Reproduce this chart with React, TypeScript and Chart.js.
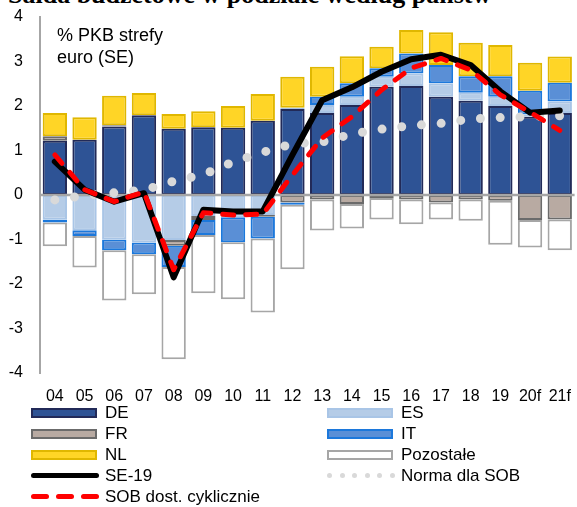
import React, { useEffect, useRef } from 'react';
import { Chart, registerables } from 'chart.js';

Chart.register(...registerables);

// Lata (f = prognoza)
const categories = ['04', '05', '06', '07', '08', '09', '10', '11', '12', '13', '14', '15', '16', '17', '18', '19', '20f', '21f'];

// Wkłady państw, % PKB strefy euro
const deValues = [1.22, 1.24, 1.54, 1.79, 1.49, 1.52, 1.51, 1.67, 1.93, 1.84, 2.02, 2.43, 2.45, 2.21, 2.12, 2.0, 1.76, 1.84];
const esValues = [-0.55, -0.79, -1.0, -1.07, -1.01, -0.47, -0.5, -0.45, 0.03, 0.18, 0.19, 0.23, 0.28, 0.3, 0.18, 0.21, 0.05, 0.26];
const frValues = [0.1, 0.0, 0.03, 0.0, -0.13, -0.09, 0.0, -0.04, -0.17, -0.1, -0.2, -0.07, -0.1, -0.17, -0.1, -0.13, -0.56, -0.55];
const itValues = [-0.07, -0.13, -0.24, -0.26, -0.48, -0.34, -0.56, -0.49, -0.05, 0.19, 0.3, 0.19, 0.45, 0.41, 0.37, 0.46, 0.53, 0.42];
const nlValues = [0.52, 0.51, 0.66, 0.5, 0.33, 0.36, 0.49, 0.6, 0.7, 0.67, 0.61, 0.48, 0.53, 0.74, 0.75, 0.7, 0.63, 0.59];
const otherValues = [-0.53, -0.71, -1.13, -0.9, -2.07, -1.31, -1.28, -1.66, -1.45, -0.7, -0.55, -0.48, -0.56, -0.38, -0.48, -0.99, -0.62, -0.69];

// Linie
const se19Values = [0.75, 0.12, -0.15, 0.04, -1.85, -0.33, -0.37, -0.37, 0.9, 2.13, 2.42, 2.77, 3.05, 3.15, 2.92, 2.33, 1.85, 1.9];
const sobCyclValues = [0.9, 0.12, -0.15, 0.07, -1.68, -0.4, -0.45, -0.43, 0.45, 1.28, 1.76, 2.36, 2.85, 3.07, 2.81, 2.25, 1.86, 1.45];
const normValues = [-0.11, -0.01, 0.05, 0.11, 0.31, 0.46, 0.74, 0.96, 1.15, 1.19, 1.37, 1.48, 1.56, 1.61, 1.71, 1.74, 1.76, 1.78];

// Oś Y
const yMin = -4;
const yMax = 4;

const FONT = '"Liberation Sans", Arial, sans-serif';

type BarStyle = { label: string; data: number[]; fill: string; border: string };
type LineStyle = { label: string; data: number[]; color: string; kind: 'solid' | 'dash' | 'dot' };

const barSeries: BarStyle[] = [
  { label: 'DE', data: deValues, fill: '#2E5395', border: '#222A58' },
  { label: 'ES', data: esValues, fill: '#B5CCE7', border: '#A9C5E6' },
  { label: 'FR', data: frValues, fill: '#B8AAA2', border: '#6B6B6B' },
  { label: 'IT', data: itValues, fill: '#5A8FD6', border: '#1C78DB' },
  { label: 'NL', data: nlValues, fill: '#FFD526', border: '#E0B700' },
  { label: 'Pozostałe', data: otherValues, fill: '#FFFFFF', border: '#A6A6A6' },
];

const lineSeries: LineStyle[] = [
  { label: 'SE-19', data: se19Values, color: '#000000', kind: 'solid' },
  { label: 'Norma dla SOB', data: normValues, color: '#D9D9D9', kind: 'dot' },
  { label: 'SOB dost. cyklicznie', data: sobCyclValues, color: '#FF0000', kind: 'dash' },
];

// Kolejność legendy: dwie kolumny
const legendLeft = ['DE', 'FR', 'NL', 'SE-19', 'SOB dost. cyklicznie'];
const legendRight = ['ES', 'IT', 'Pozostałe', 'Norma dla SOB'];

function Swatch({ name }: { name: string }) {
  const bar = barSeries.find((b) => b.label === name);
  if (bar) {
    return (
      <div
        style={{
          width: 66,
          height: 10,
          boxSizing: 'border-box',
          background: bar.fill,
          border: `2px solid ${bar.border}`,
        }}
      />
    );
  }
  const line = lineSeries.find((l) => l.label === name)!;
  if (line.kind === 'solid') {
    return <div style={{ width: 68, height: 5, borderRadius: 3, background: line.color }} />;
  }
  if (line.kind === 'dash') {
    return (
      <div style={{ width: 68, height: 5, display: 'flex', justifyContent: 'space-between' }}>
        {[0, 1, 2].map((i) => (
          <div key={i} style={{ width: 18, height: 5, borderRadius: 3, background: line.color }} />
        ))}
      </div>
    );
  }
  return (
    <div style={{ width: 68, height: 5, display: 'flex', justifyContent: 'space-between' }}>
      {[0, 1, 2, 3, 4, 5].map((i) => (
        <div key={i} style={{ width: 5, height: 5, borderRadius: 3, background: line.color }} />
      ))}
    </div>
  );
}

function LegendColumn({ names, left }: { names: string[]; left: number }) {
  return (
    <>
      {names.map((n, i) => (
        <div
          key={n}
          style={{
            position: 'absolute',
            left,
            top: 413 + i * 20.9 - 10,
            height: 20,
            display: 'flex',
            alignItems: 'center',
            font: `17px ${FONT}`,
            color: '#000',
            whiteSpace: 'nowrap',
          }}
        >
          <div style={{ width: 74, display: 'flex', alignItems: 'center' }}>
            <Swatch name={n} />
          </div>
          <span>{n}</span>
        </div>
      ))}
    </>
  );
}

export default function App() {
  const canvasRef = useRef<HTMLCanvasElement>(null);

  useEffect(() => {
    if (!canvasRef.current) return;

    // Linia zerowa rysowana na słupkach
    const zeroLine = {
      id: 'zeroLine',
      afterDatasetDraw(chart: any, args: any) {
        if (args.index !== 0) return;
        const { ctx, chartArea, scales } = chart;
        const y = scales.y.getPixelForValue(0);
        ctx.save();
        ctx.strokeStyle = '#A6A6A6';
        ctx.lineWidth = 2.5;
        ctx.beginPath();
        ctx.moveTo(chartArea.left, y);
        ctx.lineTo(chartArea.right, y);
        ctx.stroke();
        ctx.restore();
      },
    };

    const barDatasets = barSeries.map((b) => ({
      type: 'bar' as const,
      label: b.label,
      data: b.data,
      backgroundColor: b.fill,
      borderColor: b.border,
      borderWidth: 2,
      borderSkipped: false as const,
      stack: 'kraje',
      order: 3,
      barPercentage: 0.82,
      categoryPercentage: 1,
    }));

    const lineDatasets = lineSeries.map((l) => {
      const base: any = {
        type: 'line' as const,
        label: l.label,
        data: l.data,
        borderColor: l.color,
        backgroundColor: l.color,
        pointRadius: 0,
        pointHoverRadius: 0,
        fill: false,
        tension: 0,
        stack: 'linia-' + l.label,
      };
      if (l.kind === 'solid') {
        base.borderWidth = 6;
        base.borderJoinStyle = 'round';
        base.borderCapStyle = 'round';
        base.order = 1;
      } else if (l.kind === 'dash') {
        base.borderWidth = 5;
        base.borderDash = [11, 12];
        base.borderCapStyle = 'round';
        base.borderJoinStyle = 'round';
        base.order = 0;
      } else {
        base.borderWidth = 9;
        base.borderDash = [0, 19.8];
        base.borderCapStyle = 'round';
        base.order = 2;
      }
      return base;
    });

    const chart = new Chart(canvasRef.current, {
      type: 'bar',
      data: {
        labels: categories,
        datasets: [...barDatasets, ...lineDatasets] as any,
      },
      options: {
        animation: false,
        responsive: false,
        maintainAspectRatio: false,
        devicePixelRatio: 1,
        layout: { padding: { top: 17, right: 2.4, left: 0, bottom: 0 } },
        plugins: {
          legend: { display: false },
          tooltip: { enabled: false },
          title: { display: false },
        },
        scales: {
          x: {
            type: 'category',
            stacked: true,
            offset: true,
            grid: { display: false, drawTicks: false },
            border: { display: false },
            ticks: {
              color: '#000',
              font: { family: FONT, size: 16 },
              padding: 14,
              autoSkip: false,
              maxRotation: 0,
              minRotation: 0,
            },
            afterFit: (scale: any) => {
              scale.height = 32;
              scale.paddingLeft = 0;
              scale.paddingRight = 0;
            },
          },
          y: {
            stacked: true,
            min: yMin,
            max: yMax,
            grid: { display: false, drawTicks: false },
            border: { display: true, color: '#A6A6A6', width: 2 },
            ticks: {
              stepSize: 1,
              color: '#000',
              font: { family: FONT, size: 16 },
              padding: 17,
            },
            afterFit: (scale: any) => {
              scale.width = 40;
              scale.paddingTop = 0;
              scale.paddingBottom = 0;
            },
          },
        },
      },
      plugins: [zeroLine],
    });

    return () => chart.destroy();
  }, []);

  return (
    <div
      style={{
        position: 'fixed',
        left: 0,
        top: 0,
        width: 577,
        height: 507,
        background: '#fff',
        overflow: 'hidden',
      }}
    >
      <div
        style={{
          position: 'absolute',
          left: 8,
          top: -18,
          font: `bold 26px "Liberation Serif", "Times New Roman", serif`,
          lineHeight: '26px',
          whiteSpace: 'nowrap',
          color: '#000',
        }}
      >
        Salda budżetowe w podziale według państw
      </div>
      <canvas
        ref={canvasRef}
        width={577}
        height={405}
        style={{ position: 'absolute', left: 0, top: 0, width: 577, height: 405 }}
      />
      <div
        style={{
          position: 'absolute',
          left: 57,
          top: 25,
          font: `18px ${FONT}`,
          lineHeight: '21.5px',
          color: '#000',
          whiteSpace: 'nowrap',
        }}
      >
        % PKB strefy
        <br />
        euro (SE)
      </div>
      <LegendColumn names={legendLeft} left={31} />
      <LegendColumn names={legendRight} left={327} />
    </div>
  );
}
